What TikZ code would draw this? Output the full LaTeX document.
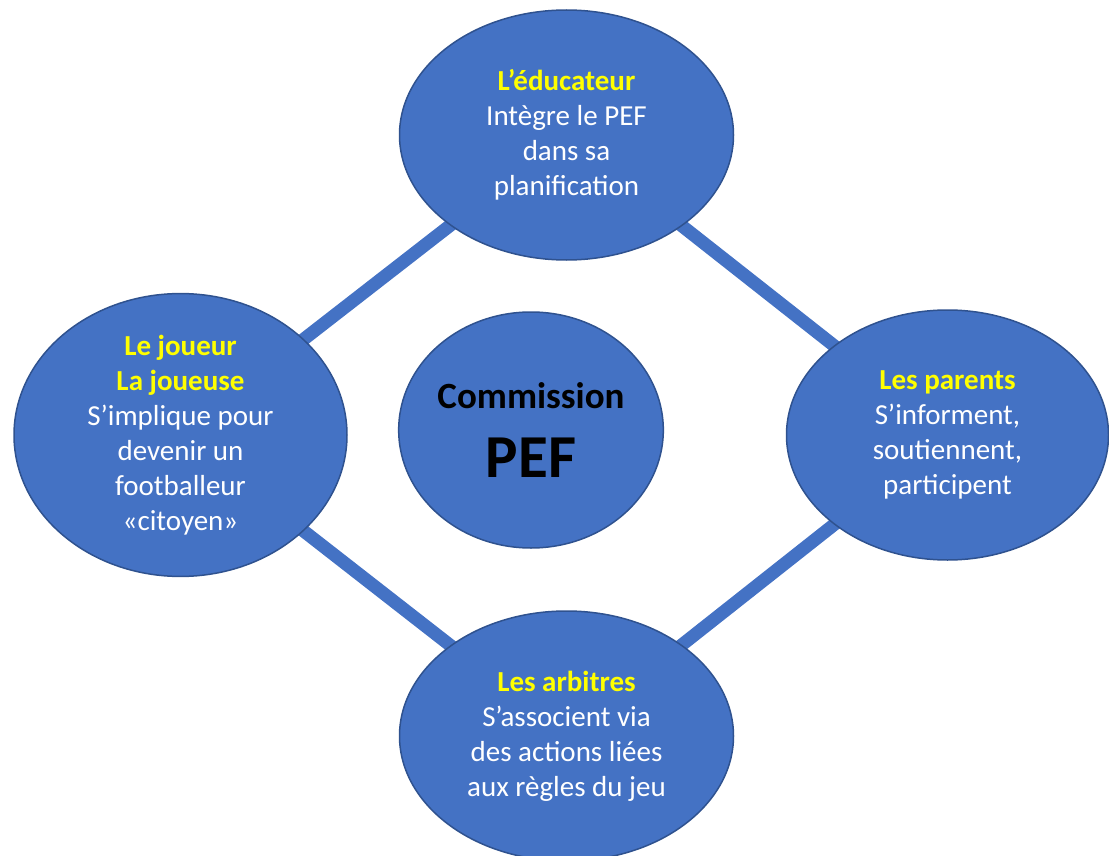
\documentclass[tikz,border=0pt]{standalone}
\usepackage{fontspec}
\setmainfont{Carlito}
\usetikzlibrary{shapes.geometric}
\definecolor{bfill}{HTML}{4472C4}
\definecolor{bline}{HTML}{2F528F}
\definecolor{ttl}{HTML}{FFFF00}
\pgfdeclarelayer{background}
\pgfsetlayers{background,main}
\tikzset{
  bub/.style={ellipse, fill=bfill, draw=bline, line width=1.5pt, inner sep=0pt,
    text=white, align=center, font=\fontsize{29}{35}\selectfont},
  link/.style={draw=bfill, line width=13pt},
}
\newcommand{\ttlx}[1]{\textcolor{ttl}{\textbf{#1}}}
\begin{document}
\begin{tikzpicture}[x=1pt,y=-1pt]
\useasboundingbox (0,0) rectangle (1109,856);
\node[bub, minimum width=334pt, minimum height=250pt] (edu) at (566.5,135)
  {\ttlx{L’éducateur}\\Intègre le PEF\\dans sa\\planification};
\node[bub, minimum width=333pt, minimum height=250pt] (jou) at (180.5,435)
  {\ttlx{Le joueur}\\\ttlx{La joueuse}\\S’implique pour\\devenir un\\footballeur\\«citoyen»};
\node[bub, minimum width=322pt, minimum height=250pt] (par) at (947.5,435)
  {\ttlx{Les parents}\\S’informent,\\soutiennent,\\participent};
\node[bub, minimum width=334pt, minimum height=250pt] (arb) at (566.5,736)
  {\ttlx{Les arbitres}\\S’associent via\\des actions liées\\aux règles du jeu};
\node[bub, minimum width=262pt, minimum height=236pt, text=black] (com) at (531,430)
  {\raisebox{-4pt}{\fontsize{37}{37}\selectfont\bfseries Commission}\\[28pt]{\fontsize{61}{61}\selectfont\bfseries PEF}};
\begin{pgfonlayer}{background}
\draw[link] (edu.center) -- (jou.center);
\draw[link] (edu.center) -- (par.center);
\draw[link] (jou.center) -- (arb.center);
\draw[link] (par.center) -- (arb.center);
\end{pgfonlayer}
\end{tikzpicture}
\end{document}
